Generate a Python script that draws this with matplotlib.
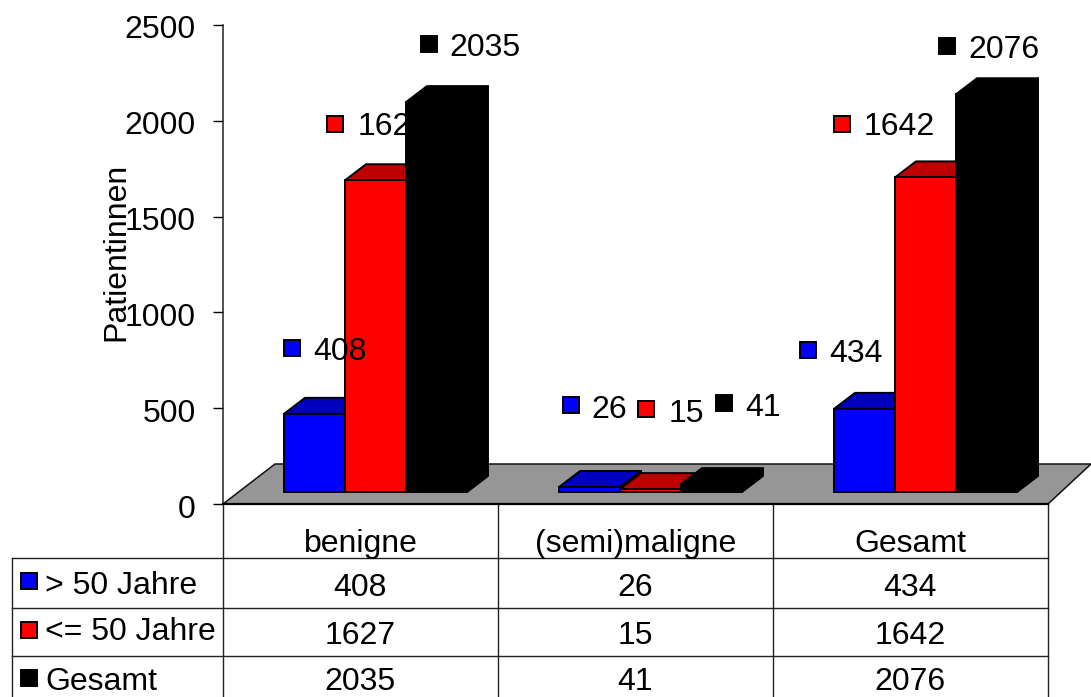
import matplotlib
matplotlib.use("Agg")
import matplotlib.pyplot as plt
from matplotlib.patches import Polygon
from matplotlib.transforms import Affine2D

# ---- data ----
categories = ["benigne", "(semi)maligne", "Gesamt"]
series_names = ["> 50 Jahre", "<= 50 Jahre", "Gesamt"]
over_50 = [408, 26, 434]
under_50 = [1627, 15, 1642]
total = [2035, 41, 2076]
y_ticks = [0, 500, 1000, 1500, 2000, 2500]
y_label = "Patientinnen"

# ---- style / layout (image pixels) ----
W, H = 1091, 697
front_colors = ["#0000ff", "#ff0000", "#000000"]
top_colors = ["#0000c0", "#c00000", "#000000"]
FLOOR = "#969696"
FS = 23
DEPTH = (21, 16)
TEXT_DY = 2.5
label_layout = [  # marker x, marker y, text x, text y
    [(292, 348, 314, 350), (571, 405, 592, 408), (808, 350, 830, 352)],
    [(335, 124, 358, 125), (646, 409, 669, 412), (842, 124, 864, 125)],
    [(429, 44, 450, 46), (724, 403, 746, 406), (947, 46, 969, 48)],
]
plt.rcParams["font.family"] = ["Liberation Sans", "DejaVu Sans"]

fig = plt.figure(figsize=(W / 100, H / 100), dpi=100, facecolor="white")
ax = fig.add_axes([223 / W, 1 - 504 / H, (1048 - 223) / W, (504 - 25) / H])
ax.patch.set_alpha(0)
ax.set_xlim(-0.5, 2.5)
ax.set_ylim(0, 2500)
ax.autoscale(False)
for s in ("top", "right"):
    ax.spines[s].set_visible(False)
ax.spines["left"].set_linewidth(1.1)
ax.spines["left"].set_color("#222222")
ax.spines["bottom"].set_linewidth(1.6)
ax.set_xticks([])
ax.set_yticks(y_ticks)
ax.tick_params(axis="y", length=7.2, width=1.0, pad=12.5, labelsize=FS)
for tl in ax.get_yticklabels():
    tl.set_transform(tl.get_transform() + Affine2D().translate(0, -2))
ax.set_ylabel(y_label, fontsize=FS)
ax.yaxis.set_label_coords((131 - 223) / (1048 - 223), 1 - (252 - 25) / (504 - 25))

px = Affine2D().scale(1, -1).translate(0, H)  # image pixels -> display
ident = Affine2D()

# floor
ax.add_patch(Polygon([(223, 504), (275, 464), (1091, 464), (1048, 504)], closed=True,
                     transform=px, facecolor=FLOOR, edgecolor="#111111", lw=1.1,
                     zorder=1, clip_on=False))

# bars
base = ax.transData + Affine2D().translate(15, 12)
bar_w = 61 / 275
dx, dy = DEPTH
for s, vals in enumerate([over_50, under_50, total]):
    offs = [i + (s - 1) * bar_w for i in range(len(vals))]
    zb = 2 + s
    ax.bar(offs, vals, width=bar_w, color=front_colors[s], edgecolor="black",
           linewidth=1.4, transform=base, zorder=zb + 0.2, clip_on=False)
    for x, v in zip(offs, vals):
        x0, y1 = base.transform((x - bar_w / 2, v))
        x1, y0 = base.transform((x + bar_w / 2, 0))
        top = [(x0, y1), (x1, y1), (x1 + dx, y1 + dy), (x0 + dx, y1 + dy)]
        side = [(x1, y0), (x1, y1), (x1 + dx, y1 + dy), (x1 + dx, y0 + dy)]
        for pts in (side, top):
            ax.add_patch(Polygon(pts, closed=True, transform=ident, facecolor=top_colors[s],
                                 edgecolor="black", lw=1.4, joinstyle="round",
                                 zorder=zb, clip_on=False))

# data labels: blue above red bar, red below black bar, black on top
label_z = [3.5, 3.6, 5]
for s, vals in enumerate([over_50, under_50, total]):
    for v, (mx, my, tx, ty) in zip(vals, label_layout[s]):
        ax.plot([mx], [my], "s", transform=px, ms=11.5, mfc=front_colors[s], mec="black",
                mew=1.4, zorder=label_z[s], clip_on=False)
        ax.text(tx - 0.5, ty + TEXT_DY - 0.5, str(v), transform=px, fontsize=FS, ha="left",
                va="center", color="black", zorder=label_z[s], clip_on=False)

# data table
line_c = "#222222"
for xv, y_start in [(12, 558), (223, 504), (498, 504), (773, 504), (1048, 504)]:
    ax.plot([xv, xv], [y_start, H], transform=px, color=line_c, lw=1.0, zorder=1, clip_on=False)
for yh in (558, 608, 656):
    ax.plot([12, 1048], [yh, yh], transform=px, color=line_c, lw=1.0, zorder=1, clip_on=False)

col_x = [360.5, 635.5, 910.5]
for cx, name in zip(col_x, categories):
    ax.text(cx, 552, name, transform=px, fontsize=FS, ha="center", va="baseline",
            clip_on=False)
row_y = [585, 633, 680]
leg_y = [581, 630, 678]
txt_y = [583, 630, 679]
for r, vals in enumerate([over_50, under_50, total]):
    for cx, v in zip(col_x, vals):
        ax.text(cx - 0.5, row_y[r] + TEXT_DY, str(v), transform=px, fontsize=FS, ha="center",
                va="center", clip_on=False)
    ax.plot([29], [leg_y[r]], "s", transform=px, ms=11.5, mfc=front_colors[r], mec="black",
            mew=1.4, zorder=3, clip_on=False)
    ax.text(45, txt_y[r] + TEXT_DY, series_names[r], transform=px, fontsize=FS, ha="left",
            va="center", clip_on=False)

fig.savefig("out.png", dpi=100)
